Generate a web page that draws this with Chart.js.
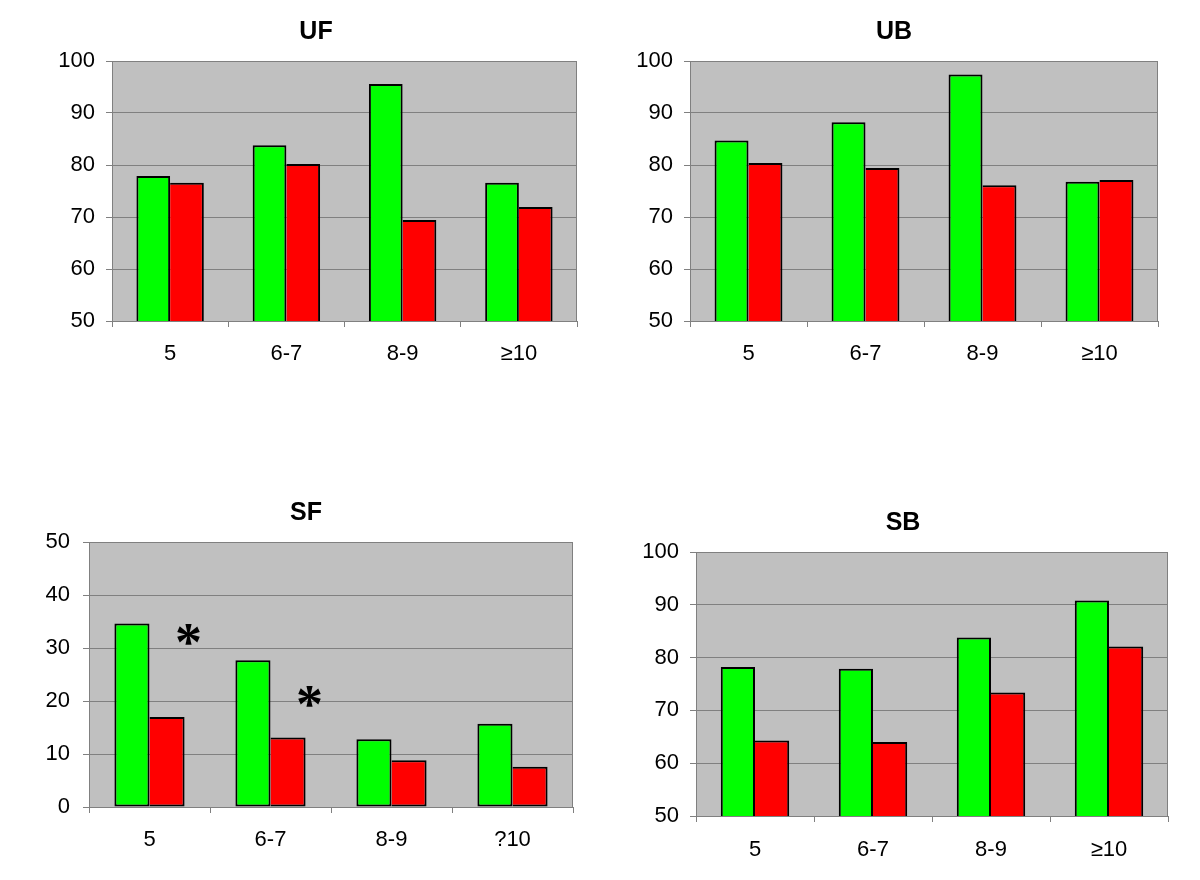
<!DOCTYPE html>
<html lang="en">
<head>
  <meta charset="UTF-8">
  <title>UF / UB / SF / SB</title>
  <script src="https://cdn.jsdelivr.net/npm/chart.js"></script>
  <style>
    html, body { margin: 0; padding: 0; background: #fff; }
    body { width: 1200px; height: 880px; position: relative; overflow: hidden; }
    .chart { position: absolute; }
    .chart canvas { display: block; }
  </style>
</head>
<body>
  <div class="chart" id="boxUF"><canvas id="chartUF"></canvas></div>
  <div class="chart" id="boxUB"><canvas id="chartUB"></canvas></div>
  <div class="chart" id="boxSF"><canvas id="chartSF"></canvas></div>
  <div class="chart" id="boxSB"><canvas id="chartSB"></canvas></div>

<script>
  // categories (the SF panel prints "?10" in the original)
  const categories = ['5', '6-7', '8-9', '≥10']
  const sfCategories = ['5', '6-7', '8-9', '?10']

  // values
  const ufGreen = [77.9, 83.8, 95.6, 76.6]
  const ufRed = [76.6, 80.2, 69.4, 71.9]
  const ubGreen = [84.7, 88.2, 97.4, 76.8]
  const ubRed = [80.4, 79.4, 76.1, 77.1]
  const sfGreen = [34.6, 27.7, 12.8, 15.7]
  const sfRed = [17.0, 13.1, 8.8, 7.6]
  const sbGreen = [78.2, 77.9, 83.8, 90.8]
  const sbRed = [64.3, 64.0, 73.4, 82.1]

  // level of the significance asterisks in SF (null = none)
  const sfStars = [32.5, 20.8, null, null]

  // y axis ranges
  const yRangeHigh = [50, 100]
  const yRangeLow = [0, 50]

  const fontFamily = "'Liberation Sans', Arial, sans-serif"
  const tickSize = 22
  const tickLine = tickSize * 1.2
  const tickLen = 6
  const titleSize = 25

  // grey plot area with a thin frame on the right
  const plotBackground = {
    id: 'plotBackground',
    beforeDraw(chart) {
      const a = chart.chartArea
      const ctx = chart.ctx
      ctx.save()
      ctx.fillStyle = '#C0C0C0'
      ctx.fillRect(a.left, a.top, a.right - a.left, a.bottom - a.top)
      ctx.restore()
    },
    beforeDatasetsDraw(chart) {
      const a = chart.chartArea
      const ctx = chart.ctx
      ctx.save()
      ctx.strokeStyle = '#808080'
      ctx.lineWidth = 1
      ctx.beginPath()
      ctx.moveTo(Math.round(a.right) - 0.5, a.top)
      ctx.lineTo(Math.round(a.right) - 0.5, a.bottom)
      ctx.stroke()
      ctx.restore()
    }
  }

  // asterisks placed just right of the red bar, at a value level
  const stars = {
    id: 'stars',
    afterDatasetsDraw(chart, args, opts) {
      if (!opts.levels) return
      const ctx = chart.ctx
      const meta = chart.getDatasetMeta(1)
      const y = chart.scales.y
      ctx.save()
      ctx.font = "bold 54px 'Liberation Serif', 'Times New Roman', serif"
      ctx.fillStyle = '#000'
      ctx.textAlign = 'center'
      ctx.textBaseline = 'alphabetic'
      const m = ctx.measureText('*')
      const mid = (m.actualBoundingBoxAscent - m.actualBoundingBoxDescent) / 2
      opts.levels.forEach((lvl, i) => {
        if (lvl === null) return
        const bar = meta.data[i]
        const px = bar.x + bar.width / 2 + 4
        ctx.fillText('*', px, y.getPixelForValue(lvl) + mid)
      })
      ctx.restore()
    }
  }

  // box: title centre and plot rectangle in page pixels
  function makeChart(id, title, labels, green, red, range, box, starLevels) {
    const canvas = document.getElementById(id)
    const holder = canvas.parentNode
    // the title is centred between the canvas left edge and the right padding
    const left = 2 * box.titleCx - box.plotR
    const width = box.right - left
    holder.style.left = left + 'px'
    holder.style.top = box.y + 'px'
    canvas.width = width
    canvas.height = box.h

    const xh = tickLen + box.xPad + tickLine
    const titleLine = titleSize * 1.2

    return new Chart(canvas, {
      type: 'bar',
      data: {
        labels: labels,
        datasets: [{
          label: 'green',
          data: green,
          backgroundColor: '#00FF00',
          borderColor: '#000',
          borderWidth: 2,
          borderSkipped: false
        }, {
          label: 'red',
          data: red,
          backgroundColor: '#FF0000',
          borderColor: '#000',
          borderWidth: 2,
          borderSkipped: 'left'
        }]
      },
      options: {
        responsive: false,
        animation: false,
        events: [],
        datasets: { bar: { categoryPercentage: 0.58, barPercentage: 1 } },
        layout: {
          padding: {
            left: 0,
            top: 0,
            right: box.right - box.plotR,
            bottom: box.y + box.h - box.plotB - xh
          }
        },
        plugins: {
          legend: { display: false },
          tooltip: { enabled: false },
          title: {
            display: true,
            text: title,
            color: '#000',
            font: { family: fontFamily, size: titleSize, weight: 'bold', lineHeight: 1.2 },
            padding: {
              top: box.titleCy - box.y - titleLine / 2,
              bottom: box.plotT - box.titleCy - titleLine / 2
            }
          },
          stars: { levels: starLevels }
        },
        scales: {
          x: {
            grid: { offset: true, drawOnChartArea: false, color: '#808080', tickLength: tickLen },
            border: { color: '#808080' },
            ticks: { color: '#000', font: { family: fontFamily, size: tickSize }, padding: box.xPad, maxRotation: 0 },
            afterFit: s => { s.height = xh }
          },
          y: {
            min: range[0],
            max: range[1],
            grid: { color: '#808080', tickLength: tickLen },
            border: { color: '#808080' },
            ticks: { stepSize: 10, color: '#000', font: { family: fontFamily, size: tickSize }, padding: box.yPad },
            afterFit: s => { s.width = box.plotL - left }
          }
        }
      },
      plugins: [plotBackground, stars]
    })
  }

  makeChart('chartUF', 'UF', categories, ufGreen, ufRed, yRangeHigh,
    { y: 0, h: 420, right: 630, plotL: 112, plotT: 61, plotR: 577, plotB: 321, titleCx: 316, titleCy: 32, xPad: 14, yPad: 11 })
  makeChart('chartUB', 'UB', categories, ubGreen, ubRed, yRangeHigh,
    { y: 0, h: 420, right: 1190, plotL: 690, plotT: 61, plotR: 1158, plotB: 321, titleCx: 894, titleCy: 32, xPad: 14, yPad: 11 })
  makeChart('chartSF', 'SF', sfCategories, sfGreen, sfRed, yRangeLow,
    { y: 460, h: 420, right: 610, plotL: 89, plotT: 542, plotR: 573, plotB: 807, titleCy: 513.5, titleCx: 306, xPad: 14, yPad: 13 }, sfStars)
  makeChart('chartSB', 'SB', categories, sbGreen, sbRed, yRangeHigh,
    { y: 460, h: 420, right: 1198, plotL: 696, plotT: 552, plotR: 1168, plotB: 816, titleCy: 523, titleCx: 903, xPad: 15, yPad: 11 })
</script>
</body>
</html>
